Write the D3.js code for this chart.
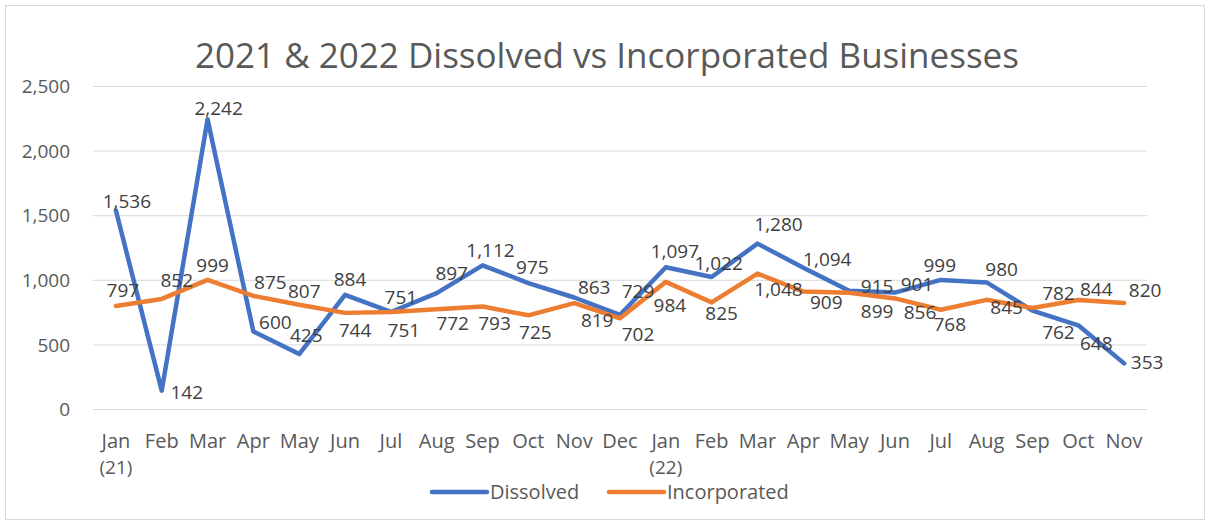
<!DOCTYPE html>
<html>
<head>
<meta charset="utf-8">
<script src="https://cdn.jsdelivr.net/npm/d3@7/dist/d3.min.js"></script>
<style>
  html, body { margin: 0; padding: 0; background: #fff; }
  svg text { font-family: "Open Sans", "Noto Sans", sans-serif; }
</style>
</head>
<body>
<div id="chart"></div>
<script>
// month labels, second line carries the year on Jan
const months = ['Jan', 'Feb', 'Mar', 'Apr', 'May', 'Jun', 'Jul', 'Aug', 'Sep', 'Oct', 'Nov', 'Dec',
    'Jan', 'Feb', 'Mar', 'Apr', 'May', 'Jun', 'Jul', 'Aug', 'Sep', 'Oct', 'Nov'];
const yearTags = ['(21)', '', '', '', '', '', '', '', '', '', '', '',
    '(22)', '', '', '', '', '', '', '', '', '', ''];

const dissolved = [1536, 142, 2242, 600, 425, 884, 751, 897, 1112, 975, 863, 729,
    1097, 1022, 1280, 1094, 915, 901, 999, 980, 762, 648, 353];
const incorporated = [797, 852, 999, 875, 807, 744, 751, 772, 793, 725, 819, 702,
    984, 825, 1048, 909, 899, 856, 768, 845, 782, 844, 820];

const yTicks = [0, 500, 1000, 1500, 2000, 2500];

// where each data label sits relative to its point (label centre offset, px)
const dissolvedNudge = [[11, -9], [25, 2], [11, -11], [22, -9], [7, -19], [5, -15], [10, -15], [15, -20],
    [8, -15], [4, -16], [20, -10], [18, -23], [9, -16], [7, -14], [21, -19], [24, -8], [28, -4],
    [22, -8], [-1, -15], [15, -13], [26, 22], [18, 18], [23, -1]];
const incorporatedNudge = [[7, -16], [15, -19], [5, -15], [17, -14], [5, -13], [10, 17], [13, 18], [16, 14],
    [12, 17], [7, 17], [23, 17], [18, 16], [4, 23], [10, 11], [21, 16], [23, 11], [28, 19],
    [25, 14], [9, 15], [20, 8], [26, -15], [18, -11], [21, -13]];

const series = [
    { name: 'Dissolved', values: dissolved, nudge: dissolvedNudge, color: '#4472C4' },
    { name: 'Incorporated', values: incorporated, nudge: incorporatedNudge, color: '#ED7D31' }
];

const width = 1208;
const height = 524;
const margin = { top: 86, right: 61, bottom: 115, left: 93 };

const svg = d3.select('#chart').append('svg')
    .attr('width', width)
    .attr('height', height);

// chart area border
svg.append('rect')
    .attr('x', 5.5).attr('y', 5.5)
    .attr('width', width - 9).attr('height', height - 10)
    .attr('fill', '#fff')
    .attr('stroke', '#d9d9d9');

svg.append('text')
    .attr('x', 607).attr('y', 68)
    .attr('text-anchor', 'middle')
    .attr('fill', '#595959')
    .style('font-size', '35px')
    .text('2021 & 2022 Dissolved vs Incorporated Businesses');

const idx = months.map((m, i) => i);

const xScale = d3.scalePoint()
    .domain(idx)
    .range([margin.left, width - margin.right])
    .padding(0.5);

const yScale = d3.scaleLinear()
    .domain([0, 2500])
    .range([height - margin.bottom, margin.top]);

// gridlines + y labels
const yAxis = d3.axisLeft(yScale)
    .tickValues(yTicks)
    .tickSize(-(width - margin.left - margin.right))
    .tickPadding(23)
    .tickFormat(d3.format(','));

const yG = svg.append('g')
    .attr('transform', 'translate(' + margin.left + ',0)')
    .call(yAxis);
yG.select('.domain').remove();
yG.selectAll('.tick line').attr('stroke', '#d9d9d9').attr('stroke-width', 1);
yG.selectAll('.tick text')
    .attr('fill', '#595959')
    .style('font-size', '19px')
    .attr('dy', '0.35em');

// x labels
const xG = svg.append('g');
xG.selectAll('.month')
    .data(idx)
    .enter()
    .append('text')
    .attr('x', d => xScale(d))
    .attr('y', 448)
    .attr('text-anchor', 'middle')
    .attr('fill', '#595959')
    .style('font-size', '20px')
    .text(d => months[d]);
xG.selectAll('.year')
    .data(idx.filter(d => yearTags[d]))
    .enter()
    .append('text')
    .attr('x', d => xScale(d))
    .attr('y', 474)
    .attr('text-anchor', 'middle')
    .attr('fill', '#595959')
    .style('font-size', '19px')
    .text(d => yearTags[d]);

// lines
const line = d3.line()
    .x((d, i) => xScale(i))
    .y(d => yScale(d));

svg.selectAll('.series')
    .data(series)
    .enter()
    .append('path')
    .attr('d', d => line(d.values))
    .attr('fill', 'none')
    .attr('stroke', d => d.color)
    .attr('stroke-width', 4.5)
    .attr('stroke-linejoin', 'round')
    .attr('stroke-linecap', 'round');

// data labels
for (const s of series) {
    svg.append('g').selectAll('text')
        .data(s.values)
        .enter()
        .append('text')
        .attr('x', (d, i) => xScale(i) + s.nudge[i][0])
        .attr('y', (d, i) => yScale(d) + s.nudge[i][1])
        .attr('dy', '0.35em')
        .attr('text-anchor', 'middle')
        .attr('fill', '#404040')
        .style('font-size', '19px')
        .text(d => d3.format(',')(d));
}

// legend
const legend = svg.append('g').attr('transform', 'translate(0,492)');
const legendX = [432, 609];
series.forEach((s, i) => {
    legend.append('line')
        .attr('x1', legendX[i]).attr('x2', legendX[i] + 55)
        .attr('y1', 0).attr('y2', 0)
        .attr('stroke', s.color)
        .attr('stroke-width', 4.5)
        .attr('stroke-linecap', 'round');
    legend.append('text')
        .attr('x', legendX[i] + 58)
        .attr('y', 0)
        .attr('dy', '0.35em')
        .attr('fill', '#595959')
        .style('font-size', '20px')
        .text(s.name);
});
</script>
</body>
</html>
